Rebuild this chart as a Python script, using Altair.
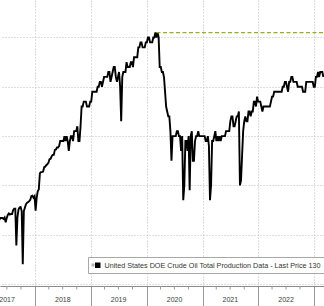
import altair as alt
import pandas as pd

# Weekly US crude oil production (thousand b/d), Fridays from 2017-05-12
v2017 = [9300, 9340, 9340, 9340, 9320, 9350, 9250, 9340, 9400, 9430, 9410, 9420,
         9420, 9500, 9530, 9530, 8780, 9350, 9510, 9550, 9560, 9480, 8400, 9480,
         9550, 9620, 9650, 9660, 9680, 9710, 9780, 9790, 9750, 9780]
v2018 = [9490, 9750, 9880, 9920, 10250, 10270, 10270, 10280, 10370, 10380, 10410,
         10430, 10460, 10530, 10540, 10590, 10620, 10620, 10720, 10730, 10770,
         10770, 10800, 10900, 10900, 10900, 10900, 11000, 10900, 11000, 10900,
         10700, 10900, 11000, 11000, 10900, 11100, 11100, 11100, 11200, 10900,
         10900, 11200, 11600, 11600, 11700, 11700, 11700, 11600, 11600, 11600, 11700]
v2019 = [11700, 11900, 11900, 11900, 11900, 11900, 12000, 12000, 12100, 12100,
         12000, 12100, 12200, 12200, 12200, 12200, 12300, 12300, 12100, 12200,
         12300, 12400, 12400, 12200, 12100, 12200, 12300, 12000, 11300, 12200,
         12300, 12300, 12300, 12500, 12400, 12400, 12400, 12500, 12500, 12400,
         12600, 12600, 12600, 12600, 12800, 12800, 12900, 12900, 12800, 12800,
         12800, 12900]
v2020 = [12900, 13000, 13000, 12900, 12900, 12900, 13000, 13000, 13100, 13000,
         13100, 13000, 12400, 12400, 12300, 12300, 12200, 11900, 11600, 11500,
         11400, 11400, 11100, 10500, 11000, 11000, 11000, 11000, 11100, 11100,
         11000, 11000, 10700, 11000, 9700, 10000, 10900, 10900, 10700, 11000,
         9900, 11000, 11100, 10500, 10500, 10900, 11000, 11000, 11100, 11000,
         11000, 11000]
v2021 = [11000, 11000, 11000, 10900, 10900, 11000, 10800, 9700, 10000, 10900,
         10900, 11000, 11100, 10900, 11000, 10900, 11000, 10900, 11000, 11000,
         11000, 11000, 11100, 11100, 11100, 11100, 11300, 11400, 11400, 11200,
         11200, 11300, 11400, 11400, 11500, 10000, 10100, 10600, 11100, 11300,
         11400, 11300, 11300, 11500, 11500, 11400, 11500, 11500, 11700, 11700,
         11600, 11800, 11700]
v2022 = [11700, 11700, 11600, 11500, 11600, 11600, 11600, 11600, 11600, 11600,
         11600, 11700, 11800, 11800, 11900, 11900, 11900, 11900, 11900, 11900,
         11900, 11900, 12000, 12000, 12100, 12100, 12000, 11900, 12100, 12100,
         12200, 12200, 12100, 12100, 12100, 12100, 12000, 12000, 12000, 12000,
         12000, 11900, 11900, 11900, 12100, 12100, 12100, 12100, 12100, 12100,
         12100, 12000]
v2023 = [12000, 12200, 12200, 12300, 12200, 12300, 12300, 12300, 12200]

series_name = "United States DOE Crude Oil Total Production Data - Last Price 130"
record_value = 13100
record_start = "2020-03-06"
record_end = "2023-06-30"

year_labels = ["2017", "2018", "2019", "2020", "2021", "2022"]
year_label_dates = ["2017-07-02", "2018-07-02", "2019-07-02", "2020-07-02", "2021-07-02", "2022-07-02"]
year_bounds = [2018, 2019, 2020, 2021, 2022, 2023]
quarter_ticks = ["2017-07-01", "2017-10-01",
                 "2018-04-01", "2018-07-01", "2018-10-01",
                 "2019-04-01", "2019-07-01", "2019-10-01",
                 "2020-04-01", "2020-07-01", "2020-10-01",
                 "2021-04-01", "2021-07-01", "2021-10-01",
                 "2022-04-01", "2022-07-01", "2022-10-01"]
y_grid = [8000, 9000, 10000, 11000, 12000, 13000]

values = v2017 + v2018 + v2019 + v2020 + v2021 + v2022 + v2023
dates = pd.date_range("2017-05-12", periods=len(values), freq="7D").strftime("%Y-%m-%d")
df = pd.DataFrame({"date": list(dates), "value": values})

xscale = alt.Scale(type="utc", domain=[alt.DateTime(year=2017, month=5, date=17, utc=True),
                                       alt.DateTime(year=2023, month=3, date=7, utc=True)])
grid_col = "#bdbdbd"

line = alt.Chart(df).mark_line(color="black", strokeWidth=1.9, clip=True).encode(
    x=alt.X("date:T", scale=xscale,
            axis=alt.Axis(values=[alt.DateTime(year=y, month=1, date=1, utc=True) for y in year_bounds],
                          labels=False, title=None, grid=True, gridDash=[1, 2], gridColor=grid_col,
                          gridWidth=1, tickSize=20, tickColor="#9a9a9a", tickWidth=1,
                          domainColor="#8a8a8a", domainWidth=1)),
    y=alt.Y("value:Q", scale=alt.Scale(domain=[7960, 13760], zero=False, nice=False),
            axis=alt.Axis(values=y_grid, labels=False, ticks=False, domain=False, title=None,
                          grid=True, gridDash=[1, 2], gridColor=grid_col, gridWidth=1, orient="right")),
)

rec_df = pd.DataFrame({"start": [record_start], "end": [record_end], "value": [record_value]})
record = alt.Chart(rec_df).mark_rule(color="#8db31e", strokeWidth=1.3, strokeDash=[4, 2.5], clip=True).encode(
    x=alt.X("start:T", scale=xscale), x2="end:T", y=alt.Y("value:Q"))

yl_df = pd.DataFrame({"date": year_label_dates, "label": year_labels})
ylabels = alt.Chart(yl_df).mark_text(fontSize=7, font="Liberation Sans", color="#3a3a3a",
                                      baseline="middle", align="center").encode(
    x=alt.X("date:T", scale=xscale), y=alt.value(300), text="label:N")

qt_df = pd.DataFrame({"date": quarter_ticks})
qticks = alt.Chart(qt_df).mark_rule(color="#9a9a9a", strokeWidth=1).encode(
    x=alt.X("date:T", scale=xscale), y=alt.value(286), y2=alt.value(289.5))

leg_df = pd.DataFrame({"label": [series_name]})
leg_box = alt.Chart(leg_df).mark_rect(fill="white", stroke="#a8a8a8", strokeWidth=1).encode(
    x=alt.value(88.5), x2=alt.value(400), y=alt.value(257.5), y2=alt.value(273.5))
leg_gray = alt.Chart(leg_df).mark_rect(fill="#b5b5b5").encode(
    x=alt.value(91.5), x2=alt.value(94.5), y=alt.value(263.5), y2=alt.value(266.5))
leg_black = alt.Chart(leg_df).mark_rect(fill="black").encode(
    x=alt.value(95), x2=alt.value(100.5), y=alt.value(262.5), y2=alt.value(268))
leg_text = alt.Chart(leg_df).mark_text(fontSize=7.2, font="Liberation Sans", color="#333333",
                                       align="left", baseline="middle").encode(
    x=alt.value(104.5), y=alt.value(265.5), text="label:N")

chart = alt.layer(line, record, qticks, ylabels, leg_box, leg_gray, leg_black, leg_text).properties(
    width=324, height=286,
    autosize=alt.AutoSizeParams(type="none"),
    padding={"left": 0, "top": 0, "right": 0, "bottom": 20},
    background="white",
).configure_view(strokeWidth=0)

chart.save("out.html", embed_options={"renderer": "svg", "actions": False})
